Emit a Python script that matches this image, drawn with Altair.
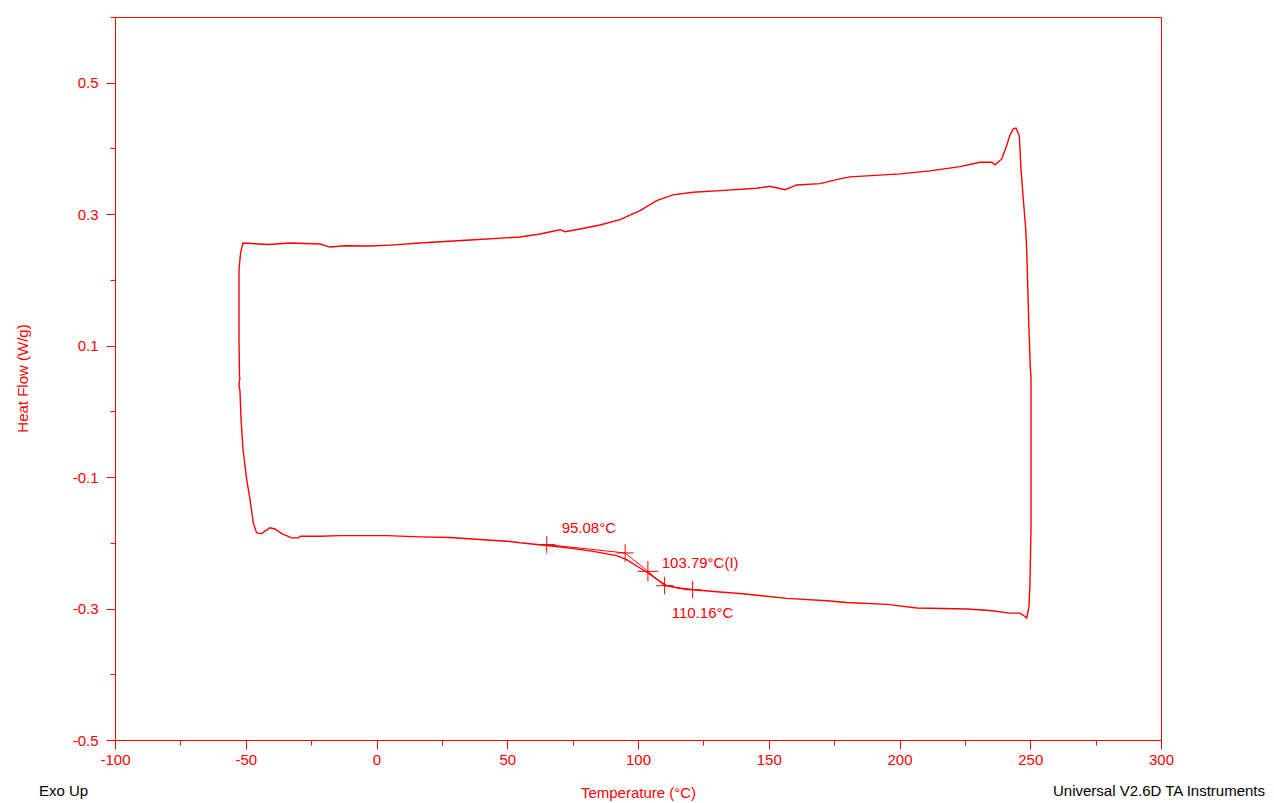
import altair as alt
import pandas as pd

# DSC heat/cool loop (temperature in °C, heat flow in W/g)
loop_temp = [-52.2, -52.6, -52.2, -51.8, -51.05, -49.64, -48.37, -47.11, -45.81, -43.90,
             -42.26, -40.73, -38.81, -36.25, -32.43, -29.9, -29.25, -21.6, -13.96, -3.75,
             3.90, 16.63, 28.1, 39.6, 51.05, 54.87, 65.09, 74.0, 82.8, 91.85,
             95.68, 100.77, 103.82, 108.41, 110.97, 116.06, 121.15, 131.36, 140.15, 156.98,
             172.27, 179.92, 195.22, 206.69, 225.81, 234.61, 242.26, 246.08, 247.99, 248.64,
             249.52, 249.90, 250.29, 250.29, 250.1, 249.90, 249.52, 248.95, 248.64, 248.26,
             247.34, 246.46, 245.81, 244.55, 243.52, 242.26, 241.0, 239.08, 236.52, 235.26,
             230.78, 223.14, 211.66, 200.19, 181.07, 177.25, 169.6, 160.69, 156.21, 150.48,
             145.39, 131.36, 121.03, 113.38, 107.15, 100.76, 93.12, 85.47, 77.82, 72.08,
             70.17, 62.52, 54.88, 35.76, 16.63, 5.16, -2.49, -12.05, -17.78, -21.6,
             -33.08, -41.49, -51.05, -51.93, -52.58, -52.58, -52.39]
loop_heat = [0.052, 0.041, 0.030, -0.012, -0.058, -0.104, -0.134, -0.170, -0.185, -0.186,
             -0.181, -0.177, -0.179, -0.186, -0.1925, -0.1925, -0.190, -0.190, -0.189, -0.189,
             -0.189, -0.191, -0.192, -0.195, -0.198, -0.200, -0.204, -0.208, -0.213, -0.2195,
             -0.2256, -0.2383, -0.2459, -0.2587, -0.2652, -0.2694, -0.2713, -0.2748, -0.2774, -0.2846,
             -0.2881, -0.2907, -0.2937, -0.2992, -0.3008, -0.3029, -0.3069, -0.3069, -0.3120, -0.3145,
             -0.2968, -0.2607, -0.1768, 0.0534, 0.061, 0.0793, 0.125, 0.2012, 0.247, 0.2774,
             0.3232, 0.3689, 0.4192, 0.4309, 0.4299, 0.4207, 0.4044, 0.3841, 0.375, 0.3791,
             0.3791, 0.3724, 0.3659, 0.3613, 0.3567, 0.3537, 0.3465, 0.3445, 0.3373, 0.3425,
             0.3395, 0.3358, 0.3334, 0.3293, 0.3206, 0.3053, 0.2916, 0.2835, 0.2774, 0.2733,
             0.2764, 0.2698, 0.2652, 0.2607, 0.2561, 0.2530, 0.2515, 0.252, 0.250, 0.2546,
             0.2561, 0.2538, 0.2561, 0.2424, 0.2165, 0.1098, 0.052]

# glass transition analysis markers
mark_temp = [65.1, 95.08, 103.79, 110.16, 120.9]
mark_heat = [-0.2027, -0.2154, -0.2434, -0.2652, -0.2713]
mark_kind = ["limit", "onset", "inflection", "end", "limit"]

label_text = ["95.08°C", "103.79°C(I)", "110.16°C"]
label_temp = [70.8, 109.06, 112.89]
label_heat = [-0.1776, -0.2302, -0.3069]

x_ticks = [-100, -75, -50, -25, 0, 25, 50, 75, 100, 125, 150, 175, 200, 225, 250, 275, 300]
y_ticks = [-0.5, -0.4, -0.3, -0.2, -0.1, 0.0, 0.1, 0.2, 0.3, 0.4, 0.5, 0.6]

RED = "#ff0000"
FONT = "Liberation Sans"

loop_df = pd.DataFrame({"step": range(len(loop_temp)), "temp": loop_temp, "heat": loop_heat})
mark_df = pd.DataFrame({"step": range(len(mark_temp)), "temp": mark_temp, "heat": mark_heat, "kind": mark_kind})
label_df = pd.DataFrame({"text": label_text, "temp": label_temp, "heat": label_heat})

xscale = alt.Scale(domain=[-100, 300], nice=False, zero=False)
yscale = alt.Scale(domain=[-0.5, 0.6], nice=False, zero=False)

xaxis = alt.Axis(
    values=x_ticks,
    labelExpr="datum.value % 50 === 0 ? (datum.value < 0 ? '-' : '') + format(abs(datum.value), 'd') : ''",
    tickSize={"condition": {"test": "datum.value % 50 === 0", "value": 9}, "value": 5},
    labelFlush=False, labelOverlap=False, labelPadding=3,
    title="Temperature (°C)", titleX=523, titleY=52, titleBaseline="middle",
    titleAlign="center", grid=False,
)
yaxis = alt.Axis(
    values=y_ticks,
    labelExpr="abs(round(datum.value * 10)) % 2 == 1 ? (datum.value < 0 ? '-' : '') + format(abs(datum.value), '.1f') : ''",
    tickSize={"condition": {"test": "abs(round(datum.value * 10)) % 2 == 1", "value": 9}, "value": 5},
    labelFlush=False, labelOverlap=False, labelPadding=8,
    title="Heat Flow (W/g)", titleX=-93, titleY=361, titleAngle=270,
    titleBaseline="middle", titleAlign="center", grid=False,
)

base_x = alt.X("temp:Q", scale=xscale, axis=xaxis)
base_y = alt.Y("heat:Q", scale=yscale, axis=yaxis)

loop = alt.Chart(loop_df).mark_line(color=RED, strokeWidth=1.4, clip=True).encode(
    x=base_x, y=base_y, order="step:Q"
)

tangents = alt.Chart(mark_df).mark_line(color=RED, strokeWidth=1).encode(
    x=alt.X("temp:Q", scale=xscale), y=alt.Y("heat:Q", scale=yscale), order="step:Q"
)

plus = "M-1,0L1,0M0,-1L0,1"
crosses = alt.Chart(mark_df).transform_filter("datum.kind != 'inflection'").mark_point(
    shape=plus, filled=False, color=RED, strokeWidth=1, size=300, opacity=1
).encode(x=alt.X("temp:Q", scale=xscale), y=alt.Y("heat:Q", scale=yscale))

big_cross = alt.Chart(mark_df).transform_filter("datum.kind == 'inflection'").mark_point(
    shape=plus, filled=False, color=RED, strokeWidth=1, size=420, opacity=1
).encode(x=alt.X("temp:Q", scale=xscale), y=alt.Y("heat:Q", scale=yscale))

labels = alt.Chart(label_df).mark_text(
    align="left", baseline="middle", color=RED, font=FONT, fontSize=15
).encode(x=alt.X("temp:Q", scale=xscale), y=alt.Y("heat:Q", scale=yscale), text="text:N")

exo = alt.Chart(pd.DataFrame({"t": ["Exo Up"]})).mark_text(
    align="left", baseline="middle", color="#000000", font=FONT, fontSize=15
).encode(x=alt.value(-76), y=alt.value(774), text="t:N")

brand = alt.Chart(pd.DataFrame({"t": ["Universal V2.6D TA Instruments"]})).mark_text(
    align="right", baseline="middle", color="#000000", font=FONT, fontSize=15
).encode(x=alt.value(1150), y=alt.value(774), text="t:N")

chart = alt.layer(loop, tangents, crosses, big_cross, labels, exo, brand).properties(
    width=1046, height=723,
    background="white",
    autosize=alt.AutoSizeParams(type="none"),
    padding={"left": 107, "top": 9, "right": 105, "bottom": 63},
).configure_view(
    stroke=RED, strokeWidth=1
).configure_axis(
    domainColor=RED, domainWidth=1, tickColor=RED, tickWidth=1,
    labelColor=RED, labelFont=FONT, labelFontSize=15,
    titleColor=RED, titleFont=FONT, titleFontSize=15, titleFontWeight="normal",
)

chart.save("out.html", embed_options={"renderer": "svg", "actions": False})
